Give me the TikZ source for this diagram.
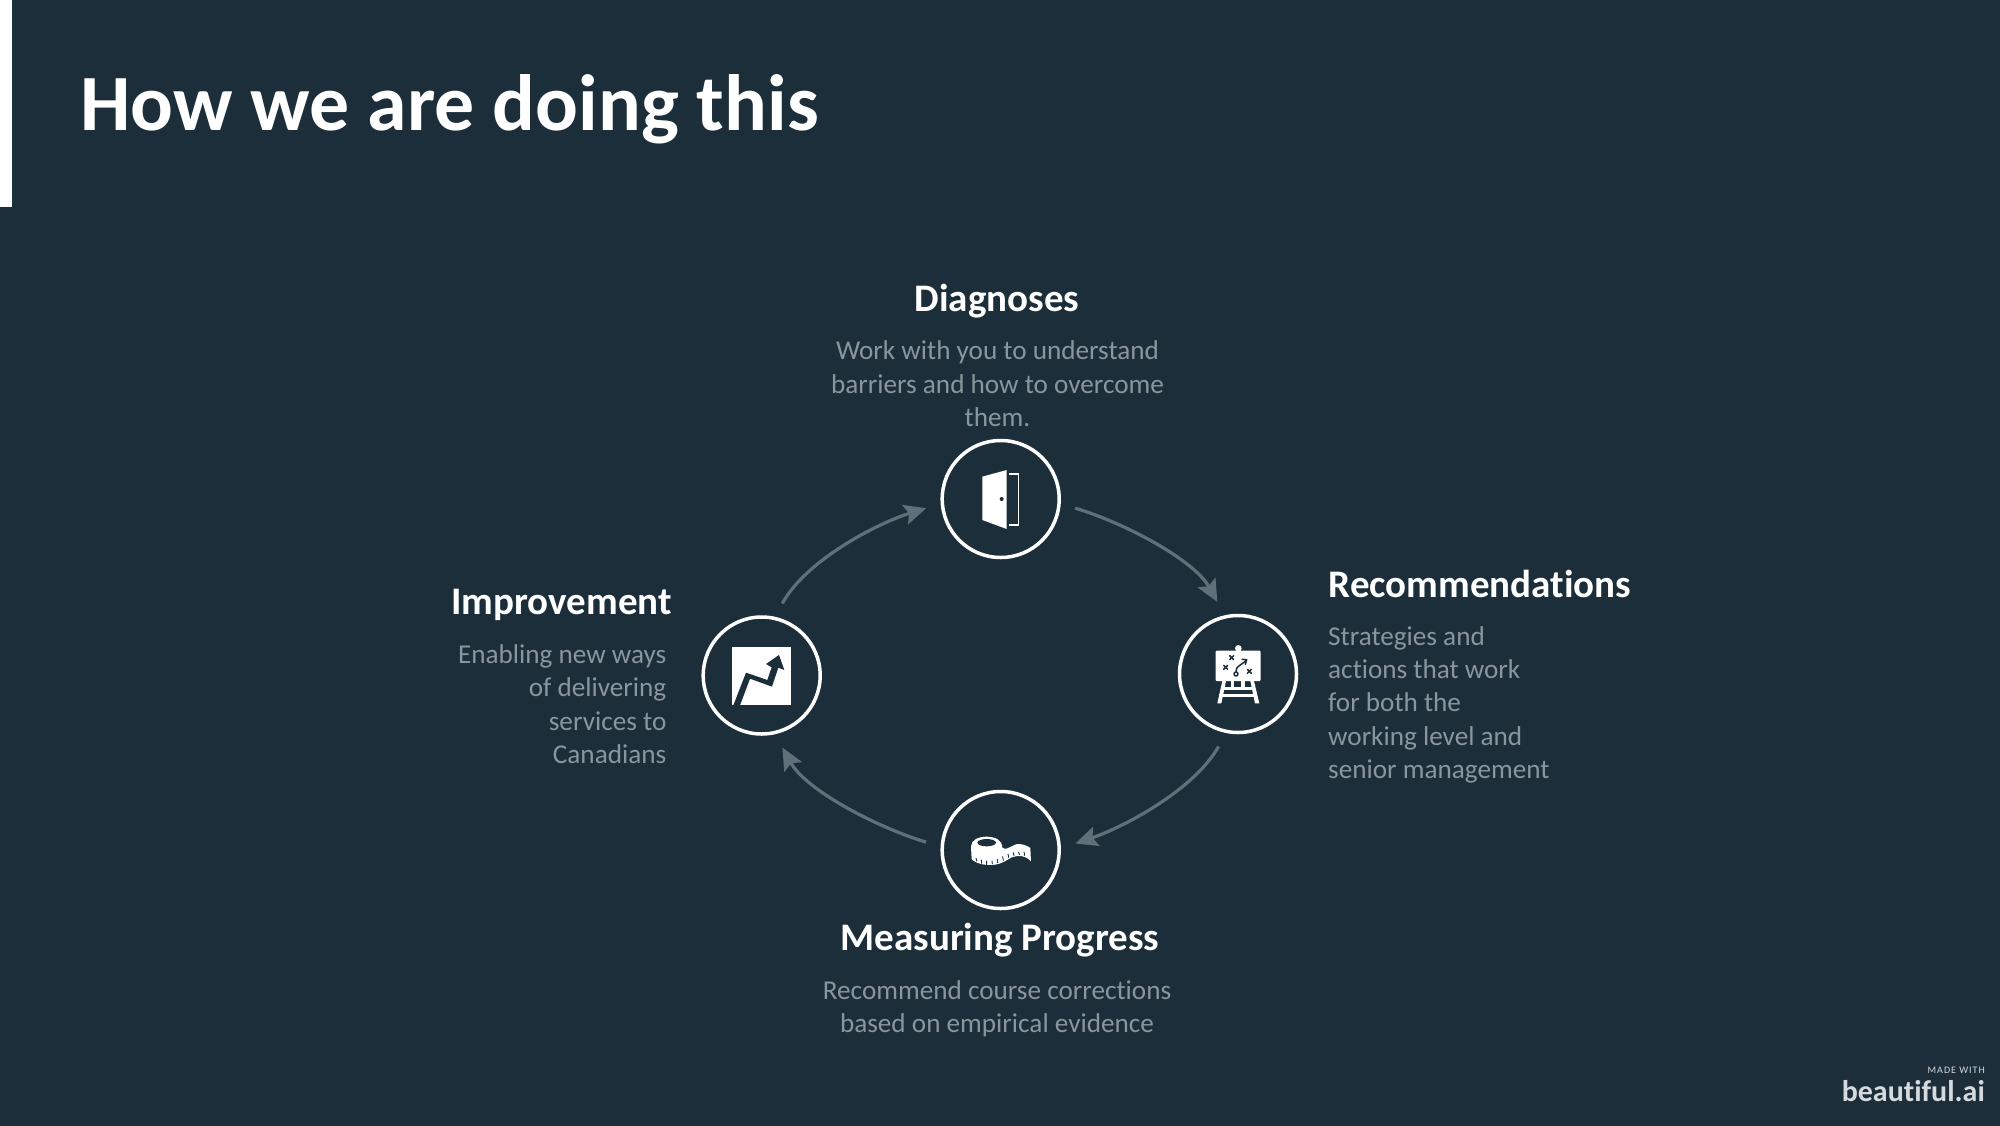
\documentclass[tikz,border=0pt]{standalone}
\usepackage{fontspec}
\setmainfont[RawFeature={-liga}]{Carlito}
\usetikzlibrary{arrows.meta}
\definecolor{bgc}{HTML}{1C2E39}
\definecolor{bodyc}{HTML}{8A969D}
\definecolor{arrc}{HTML}{5F7079}
\definecolor{markc}{HTML}{D5DADE}
\tikzset{
  stage/.style={circle,draw=white,line width=3.5pt,minimum size=117pt,inner sep=0pt,outer sep=16.5pt},
  head/.style={text=white,inner sep=0pt,font=\fontsize{39}{42}\selectfont\bfseries},
  body/.style={text=bodyc,inner sep=0pt,font=\fontsize{27.2}{33.2}\selectfont},
  arc/.style={draw=arrc,line width=3.2pt,-{Stealth[length=22pt,width=20pt,inset=4pt]}},
  zoomgrid/.style={x=0.3333pt,y=-0.3333pt},
  icon/.style={fill=white,draw=none},
  cut/.style={draw=bgc,line cap=round,line join=round}
}
\begin{document}
\begin{tikzpicture}[x=1pt,y=-1pt]
\useasboundingbox (0,0) rectangle (2000,1125);
\fill[bgc] (-3,-3) rectangle (2003,1128);
\fill[white] (-3,-3) rectangle (12,207);
\node[anchor=base west,inner sep=0pt,text=white,font=\fontsize{79.8}{90}\selectfont\bfseries] (title) at (80,130) {How we are doing this};

\node[stage] (top) at (1000.7,499) {};
\node[stage] (right) at (1238,674) {};
\node[stage] (bottom) at (1000.7,850) {};
\node[stage] (left) at (761.7,675.5) {};

\draw[arc] (top.-7) .. controls (1125,523) and (1194,560) .. (right.106);
\draw[arc] (right.-105) .. controls (1194,790) and (1124,827) .. (bottom.5);
\draw[arc] (bottom.174) .. controls (876,827) and (806,790) .. (left.-74);
\draw[arc] (left.74) .. controls (806,560) and (878,523) .. (top.187);

\node[head,anchor=base] (h1) at (997,311) {Diagnoses};
\node[body,anchor=base,align=center] (b1) at (997.5,426.3) {Work with you to understand\\barriers and how to overcome\\them.};
\node[head,anchor=base west] (h2) at (1328.5,597) {Recommendations};
\node[body,anchor=base west,align=left] (b2) at (1328,778.3) {Strategies and\\actions that work\\for both the\\working level and\\senior management};
\node[head,anchor=base] (h3) at (1000,950) {Measuring Progress};
\node[body,anchor=base,align=center] (b3) at (997,1032.3) {Recommend course corrections\\based on empirical evidence};
\node[head,anchor=base east] (h4) at (672,614.5) {Improvement};
\node[body,anchor=base east,align=right] (b4) at (666.5,763.3) {Enabling new ways\\of delivering\\services to\\Canadians};

% door
\begin{scope}[shift={(920,420)},zoomgrid]
\fill[icon] (187,170) -- (260,150) -- (260,327) -- (187,300) -- cycle;
\fill[bgc] (245,237) circle (2pt);
\draw[white,line width=1.6pt] (268,162) -- (295,162) -- (295,315) -- (268,315);
\end{scope}
% easel
\begin{scope}[shift={(1160,600)},zoomgrid]
\fill[icon] (235,145) ellipse (10 and 10);
\fill[icon,rounded corners=1pt] (167,152) rectangle (302,243);
\fill[icon] (187,243) -- (198,243) -- (184,310) -- (172,310) -- cycle;
\fill[icon] (271,243) -- (282,243) -- (298,310) -- (285,310) -- cycle;
\fill[icon] (212,243) rectangle (222,265);
\fill[icon] (244,243) rectangle (254,265);
\fill[icon] (183,262) rectangle (285,270);
\fill[icon] (178,282) rectangle (290,291);
\begin{scope}[cut,line width=1.5pt]
\draw (209,167) -- (221,179) (221,167) -- (209,179);
\draw (191,196) -- (203,208) (203,196) -- (191,208);
\draw (262,208) -- (274,220) (274,208) -- (262,220);
\draw (228,222) circle (6);
\draw (228,215) .. controls (228,198) and (240,198) .. (258,182);
\draw (246,178) -- (260,179) -- (256,193);
\end{scope}
\end{scope}
% tape
\begin{scope}[shift={(920,780)},zoomgrid]
\fill[icon] (153,200) .. controls (153,180) and (175,170) .. (200,170)
  .. controls (225,170) and (247,180) .. (247,203)
  .. controls (265,215) and (275,190) .. (300,192)
  .. controls (315,194) and (325,200) .. (331,204)
  -- (333,244) .. controls (315,225) and (295,225) .. (275,232)
  .. controls (260,240) and (250,250) .. (225,254)
  .. controls (195,258) and (165,250) .. (155,237) -- cycle;
\fill[bgc] (200,188) ellipse (28 and 11);
\begin{scope}[cut,line width=0.9pt]
\draw (168,235) -- (170,243) (184,240) -- (185,250) (200,243) -- (200,254) (216,243) -- (217,252)
 (232,238) -- (233,248) (248,230) -- (250,241) (264,222) -- (266,232) (280,218) -- (282,227) (296,216) -- (298,224) (312,216) -- (314,226);
\end{scope}
\end{scope}
% chart
\begin{scope}[shift={(680,600)},zoomgrid]
\fill[icon] (157,140) rectangle (333,315);
\fill[bgc] (160,316) -- (198,218) -- (262,240) -- (275,202) -- (258,192) -- (297,165) -- (313,210) -- (295,203) -- (276,260) -- (210,236) -- (180,316) -- cycle;
\end{scope}

\node[anchor=base east,inner sep=0pt,text=markc,font=\fontsize{10}{12}\selectfont] (m1) at (1985,1073) {\addfontfeatures{LetterSpace=10}MADE WITH};
\node[anchor=base east,inner sep=0pt,text=markc,font=\fontsize{30}{32}\selectfont\bfseries] (m2) at (1985,1101) {beautiful.ai};
\end{tikzpicture}
\end{document}
